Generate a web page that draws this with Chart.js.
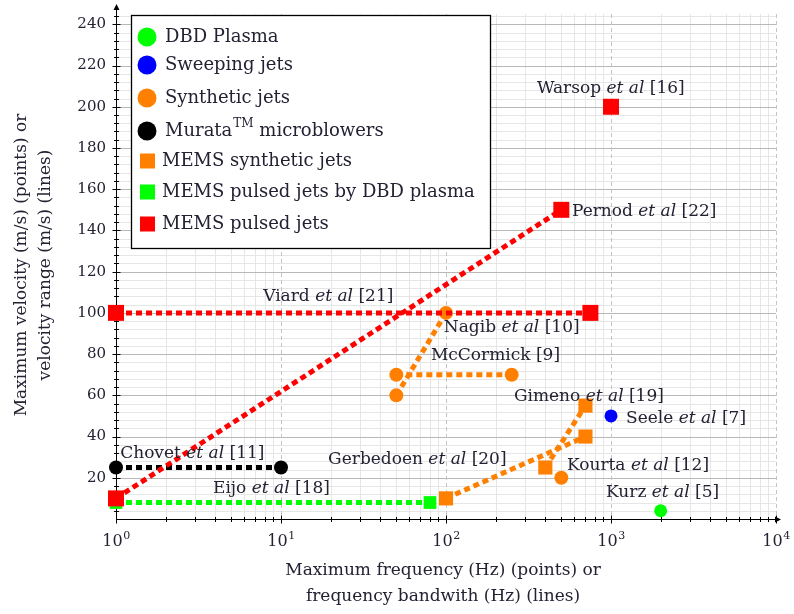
<!DOCTYPE html>
<html>
<head>
<meta charset="utf-8">
<script src="https://cdn.jsdelivr.net/npm/chart.js@4.4.1/dist/chart.umd.min.js"></script>
<style>
    html, body { margin: 0; padding: 0; background: #fff; }
    #chart { display: block; }
</style>
</head>
<body>
<canvas id="chart" width="794" height="614"></canvas>
<script>
// Values: frequency (Hz) and velocity (m/s)
const viardFreq = [1, 750];       const viardVel = [100, 100];
const pernodFreq = [1, 500];      const pernodVel = [10, 150];
const warsopFreq = [1000];        const warsopVel = [200];
const eijoFreq = [1, 80];         const eijoVel = [8, 8];
const chovetFreq = [1, 10];       const chovetVel = [25, 25];
const gerbedoenFreq = [100, 700]; const gerbedoenVel = [10, 40];
const gimenoFreq = [400, 700];    const gimenoVel = [25, 55];
const nagibFreq = [50, 100];      const nagibVel = [60, 100];
const mccormickFreq = [50, 250];  const mccormickVel = [70, 70];
const kourtaFreq = [500];         const kourtaVel = [20];
const seeleFreq = [1000];         const seeleVel = [50];
const kurzFreq = [2000];          const kurzVel = [4];

// Axis ticks
const xDecades = [1, 10, 100, 1000, 10000];
const xExponents = ['0', '1', '2', '3', '4'];
const yTicks = [20, 40, 60, 80, 100, 120, 140, 160, 180, 200, 220, 240];

// Legend
const legendNames = ['DBD Plasma', 'Sweeping jets', 'Synthetic jets', 'Murata', 'MEMS synthetic jets', 'MEMS pulsed jets by DBD plasma', 'MEMS pulsed jets'];
const legendColors = ['#00ff00', '#0000ff', '#ff8000', '#000000', '#ff8000', '#00ff00', '#ff0000'];
const legendShapes = ['circle', 'circle', 'circle', 'circle', 'rect', 'rect', 'rect'];

// Point annotations (left edge, vertical middle of text)
const noteNames = ['Warsop', 'Pernod', 'Viard', 'Nagib', 'McCormick', 'Gimeno', 'Seele', 'Gerbedoen', 'Kourta', 'Kurz', 'Chovet', 'Eijo'];
const noteEtAl = [true, true, true, true, false, true, true, true, true, true, true, true];
const noteRefs = ['[16]', '[22]', '[21]', '[10]', '[9]', '[19]', '[7]', '[20]', '[12]', '[5]', '[11]', '[18]'];
const noteFreq = [356, 580, 7.8, 97, 81, 258, 1233, 19.3, 541, 933, 1.06, 3.87];
const noteVel = [209, 149, 108, 93, 79.4, 59.6, 48.9, 28.6, 25.7, 12.6, 31.5, 15];

const SERIF = '"DejaVu Serif", serif';
const TEXT = '#222233';

function series(label, freq, vel, color, shape, radius, line) {
    return {
        label: label,
        data: freq.map((f, i) => ({ x: f, y: vel[i] })),
        showLine: line,
        borderColor: color,
        backgroundColor: color,
        pointBackgroundColor: color,
        pointBorderColor: color,
        pointBorderWidth: 0,
        pointStyle: shape,
        pointRadius: radius,
        pointHoverRadius: radius,
        borderWidth: 5,
        borderDash: [6, 4],
        borderCapStyle: 'butt',
        clip: false
    };
}

function drawRich(ctx, parts, x, y, size) {
    let cx = x;
    parts.forEach(p => {
        ctx.font = (p.italic ? 'italic ' : '') + size + 'px ' + SERIF;
        ctx.fillText(p.text, cx, y);
        cx += ctx.measureText(p.text).width;
    });
    return cx;
}

const backdropPlugin = {
    id: 'backdrop',
    beforeDatasetsDraw(chart) {
        const ctx = chart.ctx;
        const xs = chart.scales.x;
        const ys = chart.scales.y;
        const a = chart.chartArea;
        ctx.save();
        ctx.lineWidth = 1;

        // minor grid
        ctx.strokeStyle = '#e6e6e6';
        for (let v = 4; v <= 244; v += 4) {
            if (v % 20 === 0) continue;
            const py = Math.round(ys.getPixelForValue(v)) + 0.5;
            ctx.beginPath(); ctx.moveTo(a.left, py); ctx.lineTo(a.right, py); ctx.stroke();
        }
        xDecades.slice(0, -1).forEach(d => {
            for (let m = 2; m <= 9; m++) {
                const px = Math.round(xs.getPixelForValue(d * m)) + 0.5;
                ctx.beginPath(); ctx.moveTo(px, a.top); ctx.lineTo(px, a.bottom); ctx.stroke();
            }
        });

        // major grid
        ctx.strokeStyle = '#b8b8b8';
        yTicks.forEach(v => {
            const py = Math.round(ys.getPixelForValue(v)) + 0.5;
            ctx.beginPath(); ctx.moveTo(a.left, py); ctx.lineTo(a.right, py); ctx.stroke();
        });
        ctx.strokeStyle = '#c4c4c4';
        ctx.setLineDash([4, 3]);
        xDecades.slice(1).forEach(d => {
            const px = Math.round(xs.getPixelForValue(d)) + 0.5;
            ctx.beginPath(); ctx.moveTo(px, a.top); ctx.lineTo(px, a.bottom); ctx.stroke();
        });
        ctx.setLineDash([]);

        // axes with arrow heads
        ctx.strokeStyle = '#000';
        ctx.fillStyle = '#000';
        const x0 = Math.round(a.left) + 0.5;
        const y0 = Math.round(a.bottom) + 0.5;
        ctx.beginPath(); ctx.moveTo(x0, y0); ctx.lineTo(x0, a.top - 8); ctx.stroke();
        ctx.beginPath(); ctx.moveTo(x0, a.top - 10); ctx.lineTo(x0 - 3, a.top - 4); ctx.lineTo(x0 + 3, a.top - 4); ctx.closePath(); ctx.fill();
        ctx.beginPath(); ctx.moveTo(x0, y0); ctx.lineTo(a.right + 3, y0); ctx.stroke();
        ctx.beginPath(); ctx.moveTo(a.right + 5, y0); ctx.lineTo(a.right - 1, y0 - 3); ctx.lineTo(a.right - 1, y0 + 3); ctx.closePath(); ctx.fill();

        // tick marks
        for (let v = 4; v <= 244; v += 4) {
            const py = Math.round(ys.getPixelForValue(v)) + 0.5;
            const len = v % 20 === 0 ? 4 : 2.5;
            ctx.beginPath(); ctx.moveTo(x0 - len, py); ctx.lineTo(x0 + len, py); ctx.stroke();
        }
        xDecades.forEach((d, i) => {
            const px = Math.round(xs.getPixelForValue(d)) + 0.5;
            ctx.beginPath(); ctx.moveTo(px, y0 - 4); ctx.lineTo(px, y0 + 4); ctx.stroke();
            if (i === xDecades.length - 1) return;
            for (let m = 2; m <= 9; m++) {
                const pm = Math.round(xs.getPixelForValue(d * m)) + 0.5;
                ctx.beginPath(); ctx.moveTo(pm, y0 - 2.5); ctx.lineTo(pm, y0 + 2.5); ctx.stroke();
            }
        });
        ctx.restore();
    },
    afterDatasetsDraw(chart) {
        const ctx = chart.ctx;
        const xs = chart.scales.x;
        const ys = chart.scales.y;
        const a = chart.chartArea;
        ctx.save();
        ctx.fillStyle = TEXT;
        ctx.textBaseline = 'middle';

        // annotations
        noteNames.forEach((name, i) => {
            const parts = [{ text: name + ' ' }];
            if (noteEtAl[i]) parts.push({ text: 'et al', italic: true }, { text: ' ' });
            parts.push({ text: noteRefs[i] });
            drawRich(ctx, parts, xs.getPixelForValue(noteFreq[i]), ys.getPixelForValue(noteVel[i]), 17);
        });

        // y tick labels
        ctx.textAlign = 'right';
        ctx.font = '15px ' + SERIF;
        yTicks.forEach(v => ctx.fillText(String(v), a.left - 10, ys.getPixelForValue(v)));

        // x tick labels 10^n
        ctx.textAlign = 'left';
        ctx.textBaseline = 'alphabetic';
        xDecades.forEach((d, i) => {
            ctx.font = '16px ' + SERIF;
            const wb = ctx.measureText('10').width;
            ctx.font = '11px ' + SERIF;
            const we = ctx.measureText(xExponents[i]).width;
            const left = xs.getPixelForValue(d) - (wb + we) / 2;
            ctx.font = '16px ' + SERIF;
            ctx.fillText('10', left, a.bottom + 27);
            ctx.font = '11px ' + SERIF;
            ctx.fillText(xExponents[i], left + wb + 0.5, a.bottom + 20);
        });

        // axis titles
        ctx.textAlign = 'center';
        ctx.textBaseline = 'middle';
        ctx.font = '17px ' + SERIF;
        ctx.fillText('Maximum frequency (Hz) (points) or', 443, 571);
        ctx.fillText('frequency bandwith (Hz) (lines)', 443, 597);
        ctx.save();
        ctx.translate(22, 265);
        ctx.rotate(-Math.PI / 2);
        ctx.fillText('Maximum velocity (m/s) (points) or', 0, 0);
        ctx.fillText('velocity range (m/s) (lines)', 0, 24);
        ctx.restore();

        // legend box
        const lx = 131, ly = 15, lw = 359, lh = 233;
        ctx.fillStyle = '#fff';
        ctx.fillRect(lx, ly, lw, lh);
        ctx.strokeStyle = '#000';
        ctx.lineWidth = 1.3;
        ctx.strokeRect(lx + 0.5, ly + 0.5, lw, lh);
        const rowY = [37, 65, 98, 131, 161, 192, 224];
        ctx.textAlign = 'left';
        legendNames.forEach((name, i) => {
            ctx.fillStyle = legendColors[i];
            if (legendShapes[i] === 'circle') {
                ctx.beginPath(); ctx.arc(147, rowY[i], 9.5, 0, Math.PI * 2); ctx.fill();
            } else {
                ctx.fillRect(140, rowY[i] - 7.5, 15, 15);
            }
            ctx.fillStyle = TEXT;
            const tx = legendShapes[i] === 'circle' ? 165 : 162;
            ctx.font = '18px ' + SERIF;
            ctx.fillText(name, tx, rowY[i]);
            if (name === 'Murata') {
                let ex = tx + ctx.measureText(name).width + 1;
                ctx.font = '12px ' + SERIF;
                ctx.fillText('TM', ex, rowY[i] - 7);
                ex += ctx.measureText('TM').width;
                ctx.font = '18px ' + SERIF;
                ctx.fillText(' microblowers', ex, rowY[i]);
            }
        });
        ctx.restore();
    }
};

const datasets = [
    series('Viard', viardFreq, viardVel, '#ff0000', 'rect', 11.3, true),
    series('Pernod', pernodFreq, pernodVel, '#ff0000', 'rect', 11.3, true),
    series('Warsop', warsopFreq, warsopVel, '#ff0000', 'rect', 11.3, false),
    series('Eijo', eijoFreq, eijoVel, '#00ff00', 'rect', 9, true),
    series('Chovet', chovetFreq, chovetVel, '#000000', 'circle', 7, true),
    series('Gerbedoen', gerbedoenFreq, gerbedoenVel, '#ff8000', 'rect', 10, true),
    series('Gimeno', gimenoFreq, gimenoVel, '#ff8000', 'rect', 10, true),
    series('Nagib', nagibFreq, nagibVel, '#ff8000', 'circle', 7, true),
    series('McCormick', mccormickFreq, mccormickVel, '#ff8000', 'circle', 7, true),
    series('Kourta', kourtaFreq, kourtaVel, '#ff8000', 'circle', 7, false),
    series('Seele', seeleFreq, seeleVel, '#0000ff', 'circle', 6.5, false),
    series('Kurz', kurzFreq, kurzVel, '#00ff00', 'circle', 6.5, false)
];

const chart = new Chart(document.getElementById('chart'), {
    type: 'scatter',
    data: { datasets: datasets },
    options: {
        responsive: false,
        animation: false,
        devicePixelRatio: 1,
        layout: { padding: { top: 14, right: 18, left: 0, bottom: 0 } },
        plugins: { legend: { display: false }, tooltip: { enabled: false } },
        scales: {
            x: {
                type: 'logarithmic', min: 1, max: 10000,
                grid: { display: false }, border: { display: false },
                ticks: { display: false },
                afterFit: s => { s.height = 95; }
            },
            y: {
                type: 'linear', min: 0, max: 245,
                grid: { display: false }, border: { display: false },
                ticks: { display: false },
                afterFit: s => { s.width = 116; }
            }
        }
    },
    plugins: [backdropPlugin]
});
</script>
</body>
</html>
